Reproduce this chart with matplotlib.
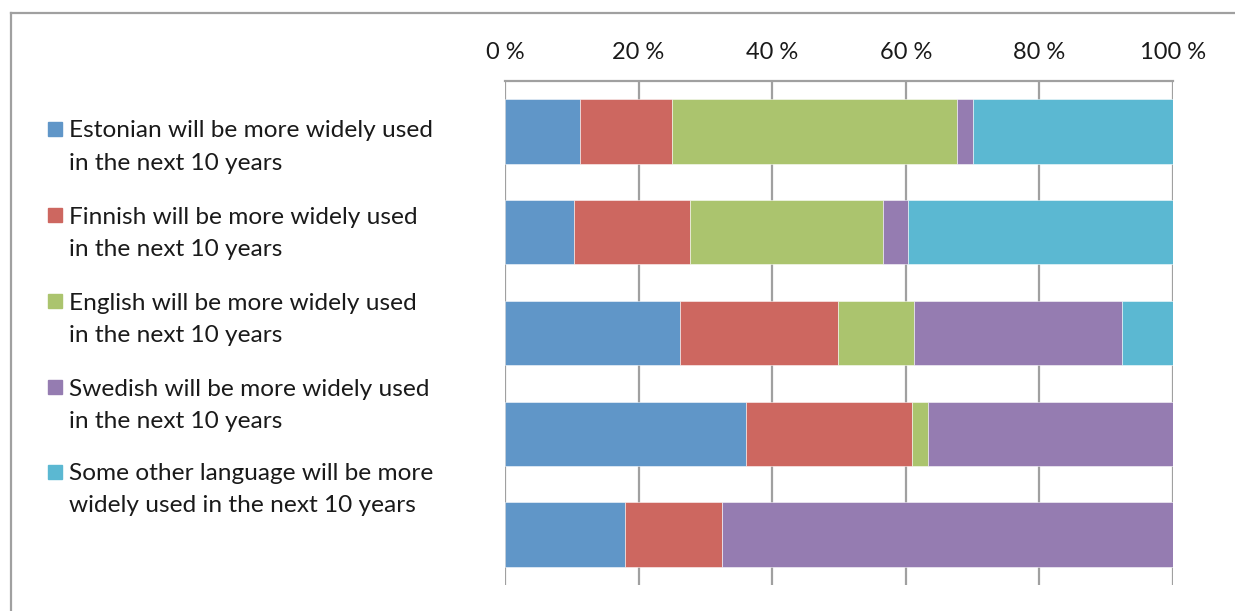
import matplotlib
matplotlib.use("Agg")
import matplotlib.pyplot as plt
from matplotlib.lines import Line2D
from matplotlib.patches import Rectangle
import numpy as np

plt.rcParams['font.family'] = ['Lato', 'DejaVu Sans']

# Answer shares (%) for each of the five respondent groups, top to bottom
series_labels = [
    "Estonian will be more widely used\nin the next 10 years",
    "Finnish will be more widely used\nin the next 10 years",
    "English will be more widely used\nin the next 10 years",
    "Swedish will be more widely used\nin the next 10 years",
    "Some other language will be more\nwidely used in the next 10 years",
]
estonian = [11.3, 10.3, 26.2, 36.1, 18.0]
finnish = [13.7, 17.35, 23.6, 24.8, 14.5]
english = [42.6, 29.0, 11.5, 2.4, 0.0]
swedish = [2.4, 3.75, 31.1, 36.7, 67.5]
other = [30.0, 39.6, 7.6, 0.0, 0.0]
xticks = [0, 20, 40, 60, 80, 100]
xtick_labels = ["0 %", "20 %", "40 %", "60 %", "80 %", "100 %"]

colors = ["#6096C8", "#CD6760", "#ABC46E", "#957CB1", "#5BB8D2"]
grid_color = "#A0A0A0"
text_color = "#1A1A1A"

W, H = 1235, 611
fig = plt.figure(figsize=(W / 100, H / 100), dpi=100)
ax = fig.add_axes([505 / W, 1 - 585 / H, (1173 - 505) / W, (585 - 81) / H])

values = [estonian, finnish, english, swedish, other]
y = np.arange(len(estonian))
left = np.zeros(len(estonian))
for vals, col in zip(values, colors):
    vals = np.array(vals)
    ax.barh(y, vals, left=left, height=0.64, color=col,
            edgecolor=(1, 1, 1, 0.6), linewidth=0.6, zorder=3)
    left += vals

ax.set_xlim(0, 100)
ax.set_ylim(len(estonian) - 0.5, -0.5)
ax.set_yticks([])
ax.xaxis.tick_top()
ax.set_xticks(xticks)
ax.set_xticklabels(xtick_labels, fontsize=17, color=text_color)
ax.tick_params(axis='x', length=0, pad=13)
for xv in xticks:
    ax.axvline(xv, color=grid_color, lw=1.6, zorder=1)
for side in ["left", "right", "bottom"]:
    ax.spines[side].set_visible(False)
ax.spines["top"].set_color(grid_color)
ax.spines["top"].set_linewidth(1.6)
ax.spines["top"].set_zorder(1)

# Legend drawn at fixed pixel positions on the left
first_line_y = [131, 217, 303, 389, 474]
line_gap = 32
for lab, col, ly in zip(series_labels, colors, first_line_y):
    fig.add_artist(Rectangle((48 / W, 1 - (ly + 5) / H), 14 / W, 14 / H,
                             transform=fig.transFigure, color=col))
    for k, line in enumerate(lab.split("\n")):
        fig.text(69 / W, 1 - (ly + k * line_gap) / H, line, fontsize=17.6,
                 va='center', ha='left', color=text_color)

# Outer chart frame
fig.add_artist(Line2D([11 / W, 11 / W], [0, 1 - 13 / H], transform=fig.transFigure,
                      color=grid_color, lw=1.6))
fig.add_artist(Line2D([11 / W, 1], [1 - 13 / H, 1 - 13 / H], transform=fig.transFigure,
                      color=grid_color, lw=1.6))

fig.savefig("out.png", dpi=100)
